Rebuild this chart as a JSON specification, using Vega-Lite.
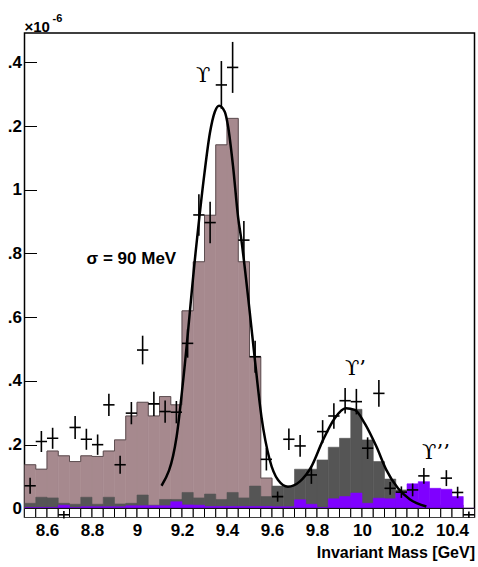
{
  "$schema": "https://vega.github.io/schema/vega-lite/v6.json",
  "width": 450,
  "height": 484,
  "autosize": {"type": "none"},
  "padding": {"left": 24.5, "top": 33, "right": 3.5, "bottom": 50},
  "background": "white",
  "config": {
    "view": {"stroke": "black", "strokeWidth": 1.5},
    "font": "Liberation Sans"
  },
  "datasets": {
    "bins": [
      {"x0": 8.50, "x1": 8.55, "mauve": 0.137, "gray": 0.016, "purple": 0.003, "empty": 0},
      {"x0": 8.55, "x1": 8.60, "mauve": 0.123, "gray": 0.035, "purple": 0.003, "empty": 0},
      {"x0": 8.60, "x1": 8.65, "mauve": 0.180, "gray": 0.033, "purple": 0.003, "empty": 0},
      {"x0": 8.65, "x1": 8.70, "mauve": 0.165, "gray": 0.016, "purple": 0.010, "empty": 0},
      {"x0": 8.70, "x1": 8.75, "mauve": 0.147, "gray": 0.013, "purple": 0.003, "empty": 0},
      {"x0": 8.75, "x1": 8.80, "mauve": 0.165, "gray": 0.035, "purple": 0.005, "empty": 0},
      {"x0": 8.80, "x1": 8.85, "mauve": 0.163, "gray": 0.013, "purple": 0.005, "empty": 0},
      {"x0": 8.85, "x1": 8.90, "mauve": 0.180, "gray": 0.035, "purple": 0.005, "empty": 0},
      {"x0": 8.90, "x1": 8.95, "mauve": 0.215, "gray": 0.014, "purple": 0.005, "empty": 0},
      {"x0": 8.95, "x1": 9.00, "mauve": 0.290, "gray": 0.016, "purple": 0.008, "empty": 0},
      {"x0": 9.00, "x1": 9.05, "mauve": 0.333, "gray": 0.042, "purple": 0.008, "empty": 0},
      {"x0": 9.05, "x1": 9.10, "mauve": 0.290, "gray": 0.010, "purple": 0.008, "empty": 0},
      {"x0": 9.10, "x1": 9.15, "mauve": 0.351, "gray": 0.028, "purple": 0.008, "empty": 0},
      {"x0": 9.15, "x1": 9.20, "mauve": 0.325, "gray": 0.028, "purple": 0.021, "empty": 0},
      {"x0": 9.20, "x1": 9.25, "mauve": 0.620, "gray": 0.050, "purple": 0.011, "empty": 0},
      {"x0": 9.25, "x1": 9.30, "mauve": 0.774, "gray": 0.033, "purple": 0.010, "empty": 0},
      {"x0": 9.30, "x1": 9.35, "mauve": 0.920, "gray": 0.045, "purple": 0.006, "empty": 0},
      {"x0": 9.35, "x1": 9.40, "mauve": 1.141, "gray": 0.028, "purple": 0.006, "empty": 0},
      {"x0": 9.40, "x1": 9.45, "mauve": 1.224, "gray": 0.050, "purple": 0.006, "empty": 0},
      {"x0": 9.45, "x1": 9.50, "mauve": 0.774, "gray": 0.033, "purple": 0.006, "empty": 0},
      {"x0": 9.50, "x1": 9.55, "mauve": 0.476, "gray": 0.070, "purple": 0.006, "empty": 0},
      {"x0": 9.55, "x1": 9.60, "mauve": 0.095, "gray": 0.037, "purple": 0.006, "empty": 0},
      {"x0": 9.60, "x1": 9.65, "mauve": 0, "gray": 0.070, "purple": 0.005, "empty": 0},
      {"x0": 9.65, "x1": 9.70, "mauve": 0, "gray": 0.070, "purple": 0.005, "empty": 0},
      {"x0": 9.70, "x1": 9.75, "mauve": 0, "gray": 0.123, "purple": 0.027, "empty": 0},
      {"x0": 9.75, "x1": 9.80, "mauve": 0, "gray": 0.123, "purple": 0.013, "empty": 0},
      {"x0": 9.80, "x1": 9.85, "mauve": 0, "gray": 0.152, "purple": 0.003, "empty": 0},
      {"x0": 9.85, "x1": 9.90, "mauve": 0, "gray": 0.192, "purple": 0.030, "empty": 0},
      {"x0": 9.90, "x1": 9.95, "mauve": 0, "gray": 0.220, "purple": 0.037, "empty": 0},
      {"x0": 9.95, "x1": 10.00, "mauve": 0, "gray": 0.311, "purple": 0.048, "empty": 0},
      {"x0": 10.00, "x1": 10.05, "mauve": 0, "gray": 0.215, "purple": 0.016, "empty": 0},
      {"x0": 10.05, "x1": 10.10, "mauve": 0, "gray": 0.147, "purple": 0.032, "empty": 0},
      {"x0": 10.10, "x1": 10.15, "mauve": 0, "gray": 0.092, "purple": 0.030, "empty": 0},
      {"x0": 10.15, "x1": 10.20, "mauve": 0, "gray": 0.058, "purple": 0.050, "empty": 0},
      {"x0": 10.20, "x1": 10.25, "mauve": 0, "gray": 0.030, "purple": 0.077, "empty": 0},
      {"x0": 10.25, "x1": 10.30, "mauve": 0, "gray": 0.020, "purple": 0.084, "empty": 0},
      {"x0": 10.30, "x1": 10.35, "mauve": 0, "gray": 0.010, "purple": 0.063, "empty": 0},
      {"x0": 10.35, "x1": 10.40, "mauve": 0, "gray": 0.010, "purple": 0.060, "empty": 0},
      {"x0": 10.40, "x1": 10.45, "mauve": 0, "gray": 0.010, "purple": 0.037, "empty": 0},
      {"x0": 10.45, "x1": 10.50, "mauve": 0, "gray": 0, "purple": 0, "empty": 0}
    ],
    "points": [
      {"x": 8.525, "y": 0.071, "err": 0.025},
      {"x": 8.575, "y": 0.210, "err": 0.033},
      {"x": 8.625, "y": 0.220, "err": 0.033},
      {"x": 8.675, "y": -0.020, "err": 0.012},
      {"x": 8.725, "y": 0.254, "err": 0.036},
      {"x": 8.775, "y": 0.217, "err": 0.033},
      {"x": 8.825, "y": 0.200, "err": 0.032},
      {"x": 8.875, "y": 0.325, "err": 0.035},
      {"x": 8.925, "y": 0.137, "err": 0.028},
      {"x": 8.975, "y": 0.299, "err": 0.035},
      {"x": 9.025, "y": 0.497, "err": 0.045},
      {"x": 9.075, "y": 0.328, "err": 0.038},
      {"x": 9.125, "y": 0.304, "err": 0.035},
      {"x": 9.175, "y": 0.302, "err": 0.035},
      {"x": 9.225, "y": 0.518, "err": 0.045},
      {"x": 9.275, "y": 0.921, "err": 0.065},
      {"x": 9.325, "y": 0.897, "err": 0.065},
      {"x": 9.375, "y": 1.329, "err": 0.075},
      {"x": 9.425, "y": 1.384, "err": 0.080},
      {"x": 9.475, "y": 0.842, "err": 0.060},
      {"x": 9.525, "y": 0.476, "err": 0.050},
      {"x": 9.575, "y": 0.154, "err": 0.035},
      {"x": 9.625, "y": 0.037, "err": 0.016},
      {"x": 9.675, "y": 0.217, "err": 0.034},
      {"x": 9.725, "y": 0.196, "err": 0.034},
      {"x": 9.775, "y": 0.105, "err": 0.028},
      {"x": 9.825, "y": 0.241, "err": 0.036},
      {"x": 9.875, "y": 0.290, "err": 0.040},
      {"x": 9.925, "y": 0.338, "err": 0.040},
      {"x": 9.975, "y": 0.335, "err": 0.040},
      {"x": 10.025, "y": 0.189, "err": 0.034},
      {"x": 10.075, "y": 0.361, "err": 0.042},
      {"x": 10.125, "y": 0.063, "err": 0.020},
      {"x": 10.175, "y": 0.051, "err": 0.018},
      {"x": 10.225, "y": 0.058, "err": 0.020},
      {"x": 10.275, "y": 0.102, "err": 0.025},
      {"x": 10.375, "y": 0.095, "err": 0.025},
      {"x": 10.425, "y": 0.050, "err": 0.018},
      {"x": 10.475, "y": -0.020, "err": 0.010}
    ],
    "curve": [
      {"x": 9.109, "y": 0.071},
      {"x": 9.176, "y": 0.225},
      {"x": 9.205, "y": 0.400},
      {"x": 9.260, "y": 0.800},
      {"x": 9.300, "y": 1.053},
      {"x": 9.324, "y": 1.178},
      {"x": 9.346, "y": 1.245},
      {"x": 9.365, "y": 1.264},
      {"x": 9.390, "y": 1.245},
      {"x": 9.405, "y": 1.198},
      {"x": 9.427, "y": 1.073},
      {"x": 9.449, "y": 0.916},
      {"x": 9.464, "y": 0.842},
      {"x": 9.500, "y": 0.623},
      {"x": 9.524, "y": 0.466},
      {"x": 9.553, "y": 0.288},
      {"x": 9.590, "y": 0.152},
      {"x": 9.627, "y": 0.089},
      {"x": 9.671, "y": 0.068},
      {"x": 9.723, "y": 0.084},
      {"x": 9.775, "y": 0.131},
      {"x": 9.827, "y": 0.215},
      {"x": 9.879, "y": 0.283},
      {"x": 9.928, "y": 0.314},
      {"x": 9.968, "y": 0.309},
      {"x": 10.012, "y": 0.267},
      {"x": 10.064, "y": 0.194},
      {"x": 10.108, "y": 0.121},
      {"x": 10.160, "y": 0.063},
      {"x": 10.212, "y": 0.029},
      {"x": 10.286, "y": 0.006}
    ]
  },
  "layer": [
    {
      "data": {"name": "bins"},
      "mark": {"type": "rect", "fill": "#a6898e", "stroke": "#a6898e", "strokeWidth": 0.6, "clip": true},
      "encoding": {
        "x": {
          "field": "x0", "type": "quantitative",
          "scale": {"domain": [8.5, 10.5], "nice": false, "zero": false},
          "axis": {
            "values": [8.6, 8.8, 9, 9.2, 9.4, 9.6, 9.8, 10, 10.2, 10.4],
            "format": "~g",
            "ticks": false, "domain": false, "grid": false,
            "labelFontSize": 17, "labelFontWeight": "bold", "labelColor": "black",
            "labelPadding": 5, "labelFont": "Liberation Sans",
            "title": "Invariant Mass [GeV]",
            "titleAnchor": "end", "titleFontSize": 16, "titleFontWeight": "bold",
            "titleColor": "black", "titlePadding": 6, "titleFont": "Liberation Sans"
          }
        },
        "x2": {"field": "x1"},
        "y": {
          "field": "mauve", "type": "quantitative",
          "scale": {"domain": [-0.027, 1.492], "nice": false, "zero": false},
          "axis": {
            "values": [0, 0.05, 0.1, 0.15, 0.2, 0.25, 0.3, 0.35, 0.4, 0.45, 0.5, 0.55, 0.6, 0.65, 0.7, 0.75, 0.8, 0.85, 0.9, 0.95, 1, 1.05, 1.1, 1.15, 1.2, 1.25, 1.3, 1.35, 1.4, 1.45],
            "labelExpr": "abs(datum.value*5 - round(datum.value*5)) > 0.01 ? '' : datum.value == 0 ? '0' : abs(datum.value - 1) < 0.001 ? '1' : substring(format(datum.value, '.1f'), 1)",
            "tickSize": {"condition": {"test": "abs(datum.value*5 - round(datum.value*5)) < 0.01", "value": -12}, "value": -6},
            "tickColor": "black", "tickWidth": 1,
            "domain": false, "grid": false, "title": null,
            "labelFontSize": 17, "labelFontWeight": "bold", "labelColor": "black",
            "labelPadding": 15, "labelFont": "Liberation Sans"
          }
        },
        "y2": {"datum": 0}
      }
    },
    {
      "data": {"name": "bins"},
      "mark": {"type": "line", "interpolate": "step-after", "stroke": "#5e4f52", "strokeWidth": 1, "clip": true},
      "encoding": {
        "x": {"field": "x0", "type": "quantitative"},
        "y": {"field": "mauve", "type": "quantitative"}
      }
    },
    {
      "data": {"name": "bins"},
      "mark": {"type": "rect", "fill": "#555555", "stroke": "#555555", "strokeWidth": 0.6, "clip": true},
      "encoding": {
        "x": {"field": "x0", "type": "quantitative"},
        "x2": {"field": "x1"},
        "y": {"field": "gray", "type": "quantitative"},
        "y2": {"datum": 0}
      }
    },
    {
      "data": {"name": "bins"},
      "mark": {"type": "rect", "fill": "#7f00ff", "stroke": "#7f00ff", "strokeWidth": 0.6, "clip": true},
      "encoding": {
        "x": {"field": "x0", "type": "quantitative"},
        "x2": {"field": "x1"},
        "y": {"field": "purple", "type": "quantitative"},
        "y2": {"datum": 0}
      }
    },
    {
      "data": {"name": "bins"},
      "mark": {"type": "rect", "fill": "white", "stroke": "black", "strokeWidth": 1, "clip": true},
      "encoding": {
        "x": {"field": "x0", "type": "quantitative"},
        "x2": {"field": "x1"},
        "y": {"field": "empty", "type": "quantitative"},
        "y2": {"datum": -0.05}
      }
    },
    {
      "data": {"name": "curve"},
      "mark": {"type": "line", "interpolate": "monotone", "stroke": "black", "strokeWidth": 2.5, "clip": true},
      "encoding": {
        "x": {"field": "x", "type": "quantitative"},
        "y": {"field": "y", "type": "quantitative"}
      }
    },
    {
      "data": {"name": "points"},
      "mark": {"type": "errorbar", "color": "black", "rule": {"strokeWidth": 1.6}},
      "encoding": {
        "x": {"field": "x", "type": "quantitative"},
        "y": {"field": "y", "type": "quantitative"},
        "yError": {"field": "err"}
      }
    },
    {
      "data": {"name": "points"},
      "mark": {"type": "tick", "orient": "horizontal", "size": 11.3, "thickness": 1.6, "color": "black", "opacity": 1},
      "encoding": {
        "x": {"field": "x", "type": "quantitative"},
        "y": {"field": "y", "type": "quantitative"}
      }
    },
    {
      "data": {"values": [{}]},
      "mark": {"type": "text", "text": "σ = 90 MeV", "align": "left", "baseline": "middle", "fontSize": 17, "fontWeight": "bold", "font": "Liberation Sans", "color": "black"},
      "encoding": {"x": {"datum": 8.776}, "y": {"datum": 0.783}}
    },
    {
      "data": {"values": [{}]},
      "mark": {"type": "text", "text": "ϒ", "align": "left", "baseline": "alphabetic", "fontSize": 21, "font": "DejaVu Serif", "color": "black"},
      "encoding": {"x": {"datum": 9.262}, "y": {"datum": 1.339}}
    },
    {
      "data": {"values": [{}]},
      "mark": {"type": "text", "text": "ϒ’", "align": "left", "baseline": "alphabetic", "fontSize": 21, "font": "DejaVu Serif", "color": "black"},
      "encoding": {"x": {"datum": 9.924}, "y": {"datum": 0.419}}
    },
    {
      "data": {"values": [{}]},
      "mark": {"type": "text", "text": "ϒ’’", "align": "left", "baseline": "alphabetic", "fontSize": 21, "font": "DejaVu Serif", "color": "black"},
      "encoding": {"x": {"datum": 10.267}, "y": {"datum": 0.154}}
    },
    {
      "data": {"values": [{}]},
      "mark": {"type": "text", "text": "×10", "align": "left", "baseline": "alphabetic", "fontSize": 15, "fontWeight": "bold", "font": "Liberation Sans", "color": "black", "dx": 0, "dy": -1},
      "encoding": {"x": {"datum": 8.5}, "y": {"datum": 1.492}}
    },
    {
      "data": {"values": [{}]},
      "mark": {"type": "text", "text": "-6", "align": "left", "baseline": "alphabetic", "fontSize": 11, "fontWeight": "bold", "font": "Liberation Sans", "color": "black", "dx": 28, "dy": -11},
      "encoding": {"x": {"datum": 8.5}, "y": {"datum": 1.492}}
    }
  ]
}
